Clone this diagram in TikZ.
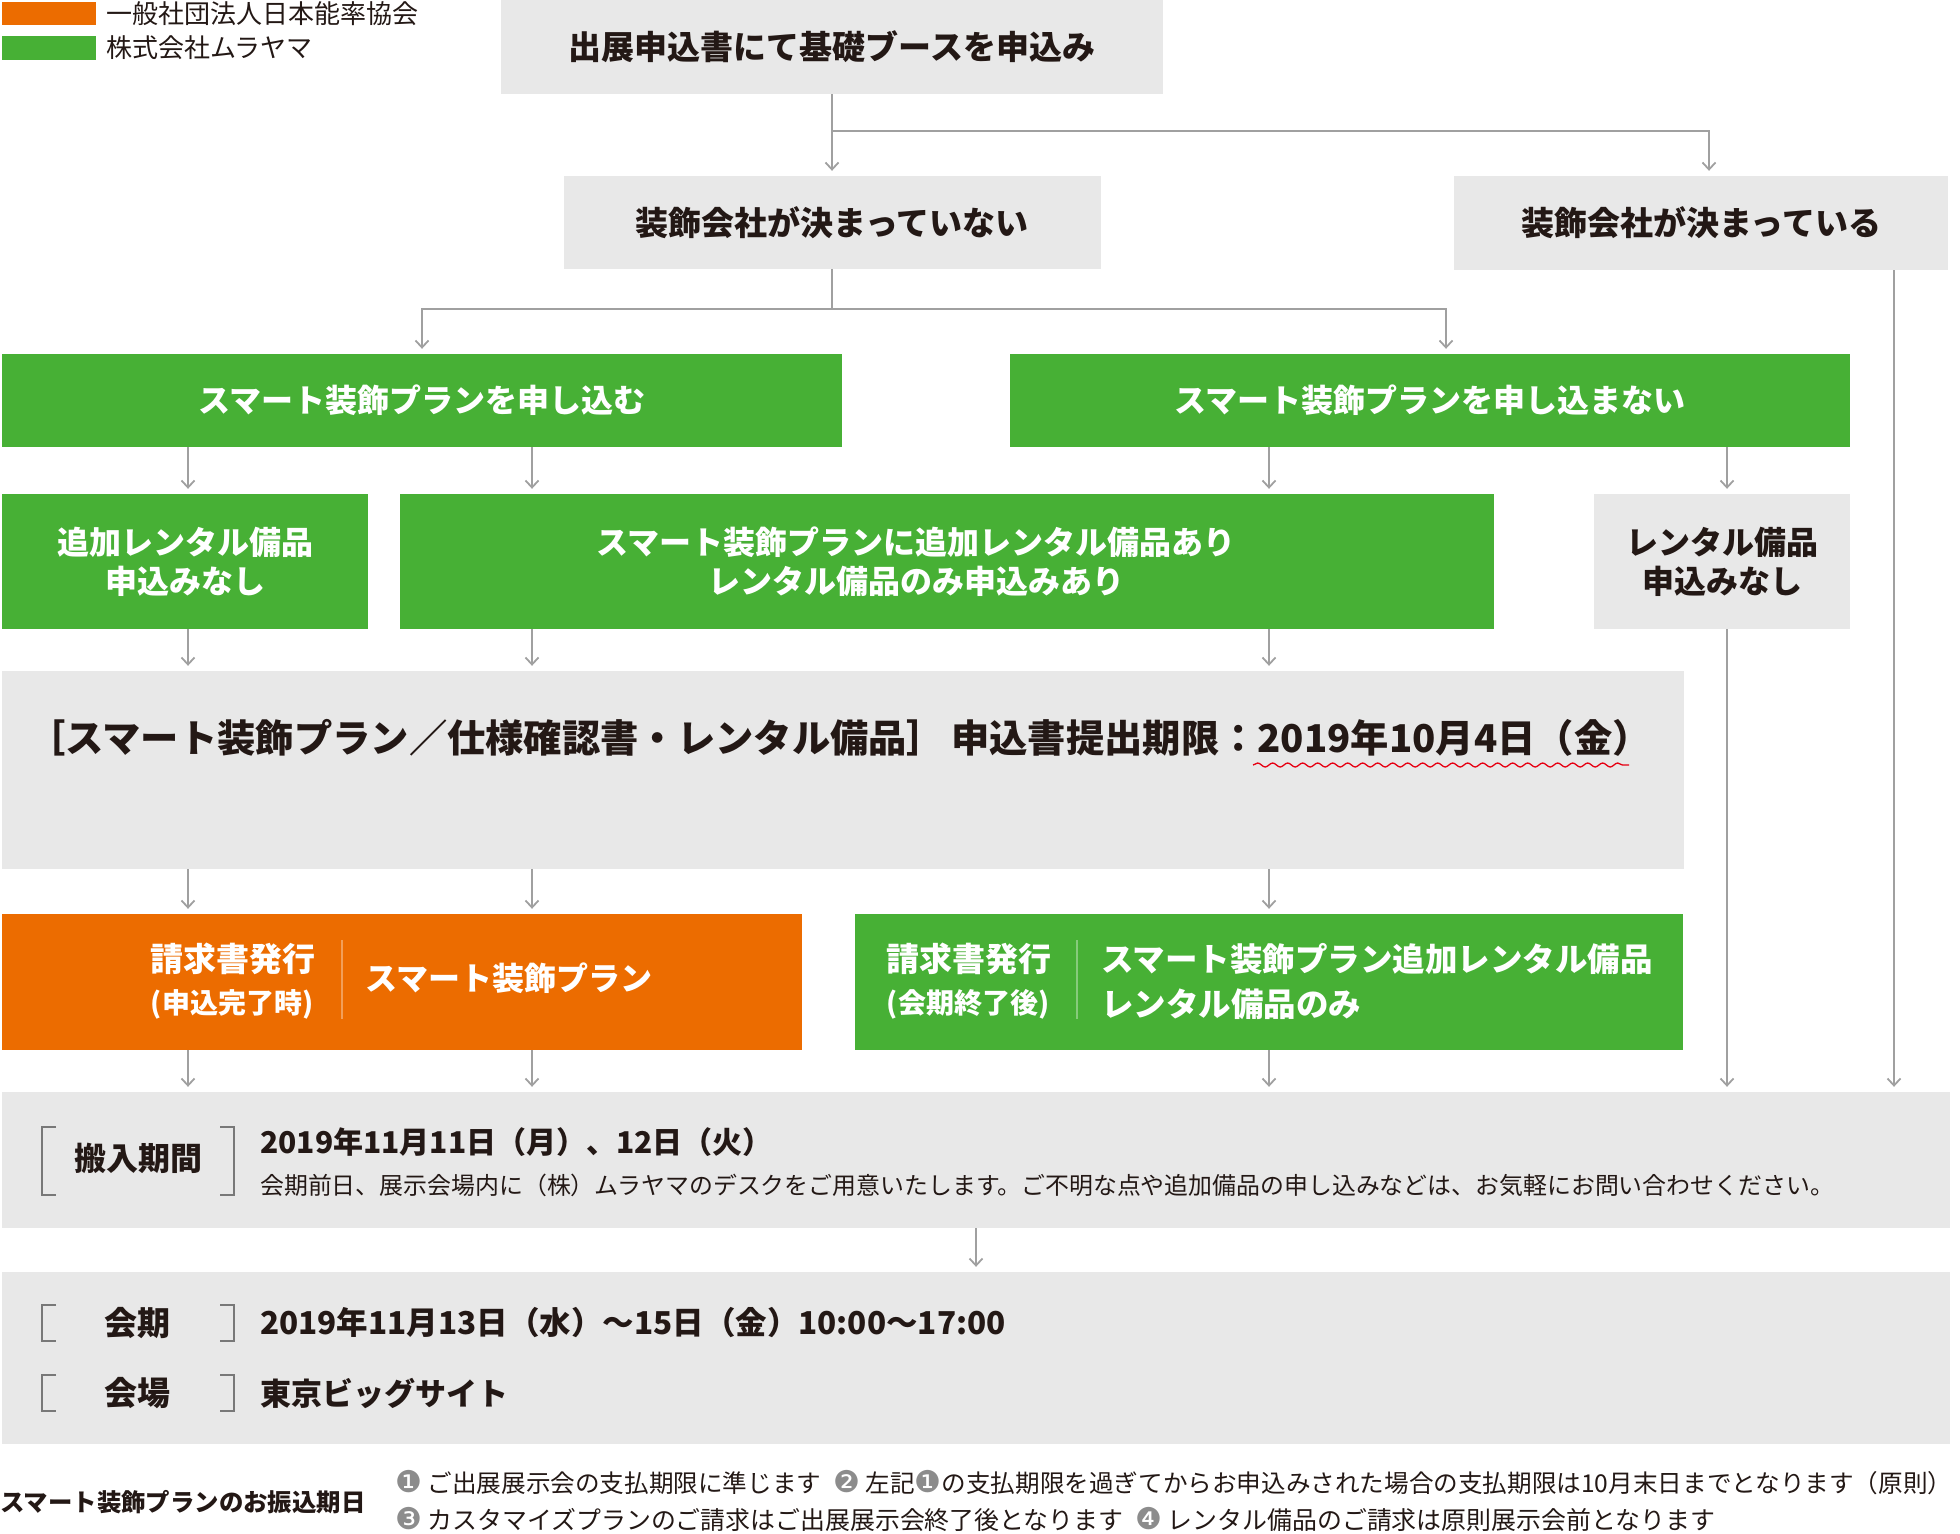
\documentclass[tikz,border=0pt]{standalone}
\usepackage{fontspec}
\setmainfont{Noto Sans CJK JP}
\newfontfamily\dejavu{DejaVu Sans}
\usetikzlibrary{arrows.meta,decorations.pathmorphing,calc}
\definecolor{jorange}{RGB}{236,108,0}
\definecolor{jgreen}{RGB}{71,176,53}
\definecolor{jgray}{RGB}{232,232,232}
\definecolor{jline}{RGB}{160,160,160}
\definecolor{jtext}{RGB}{35,24,21}
\definecolor{jbrk}{RGB}{120,120,120}
\definecolor{jred}{RGB}{230,0,18}
\definecolor{jcirc}{RGB}{140,140,140}
\newcommand\jfs[2]{\fontsize{#1}{#2}\selectfont}
\newcommand\cn[1]{{\dejavu\fontsize{30}{30}\selectfont\color{jcirc}#1}}
\begin{document}
\begin{tikzpicture}[x=1pt,y=-1pt,
  box/.style={rectangle,inner sep=0pt,anchor=center},
  gbox/.style={box,fill=jgray,text=jtext},
  grbox/.style={box,fill=jgreen,text=white},
  obox/.style={box,fill=jorange,text=white},
  txt/.style={inner sep=0pt},
  arr/.style={draw=jline,line width=1.8pt,-{Straight Barb[length=7pt,width=13pt]},shorten >=5pt},
  ln/.style={draw=jline,line width=1.8pt},
  brk/.style={draw=jbrk,line width=2pt},
  dv/.style={draw=white,draw opacity=0.35,line width=1.5pt},
  hA/.style={font=\jfs{33}{40}\bfseries},
  hB/.style={font=\jfs{32}{39}\bfseries,align=center},
]
\useasboundingbox (0,0) rectangle (1960,1534);

% legend
\fill[jorange] (2,2) rectangle (96,25);
\fill[jgreen] (2,36) rectangle (96,60);
\node[txt,anchor=west,text=jtext,font=\jfs{26}{30}] (lg1) at (106,14) {一般社団法人日本能率協会};
\node[txt,anchor=west,text=jtext,font=\jfs{26}{30}] (lg2) at (106,48) {株式会社ムラヤマ};

% boxes
\node[gbox,hA,minimum width=662pt,minimum height=94pt] (b1) at (832,47) {出展申込書にて基礎ブースを申込み};
\node[gbox,hA,minimum width=537pt,minimum height=93pt] (b2) at (832,222.5) {装飾会社が決まっていない};
\node[gbox,hA,minimum width=494pt,minimum height=94pt] (b3) at (1701,223) {装飾会社が決まっている};
\node[grbox,hB,minimum width=840pt,minimum height=93pt] (b4) at (422,400.5) {スマート装飾プランを申し込む};
\node[grbox,hB,minimum width=840pt,minimum height=93pt] (b5) at (1430,400.5) {スマート装飾プランを申し込まない};
\node[grbox,hB,minimum width=366pt,minimum height=135pt] (b6) at (185,561.5) {追加レンタル備品\\申込みなし};
\node[grbox,minimum width=1094pt,minimum height=135pt] (b7) at (947,561.5) {};
\node[txt,hB,text=white] (t7) at (916,561.5) {スマート装飾プランに追加レンタル備品あり\\レンタル備品のみ申込みあり};
\node[gbox,hB,minimum width=256pt,minimum height=135pt] (b8) at (1722,561.5) {レンタル備品\\申込みなし};
\node[gbox,minimum width=1682pt,minimum height=198pt] (b9) at (843,770) {};
\node[txt,anchor=west,text=jtext,font=\jfs{38.3}{44}\bfseries] (t9) at (27,738) {［スマート装飾プラン／仕様確認書・レンタル備品］\hspace{6pt}申込書提出期限：2019年10月4日（金）};
\draw[jred,line width=1.3pt,decorate,decoration={snake,amplitude=2pt,segment length=15pt}] (1253,765) -- (1629,765);

\node[obox,minimum width=800pt,minimum height=136pt] (b10) at (402,982) {};
\node[txt,text=white,font=\jfs{33}{40}\bfseries] (t10a) at (233,959) {請求書発行};
\node[txt,text=white,font=\jfs{28}{34}\bfseries] (t10b) at (232,1004) {(申込完了時)};
\node[txt,anchor=west,text=white,font=\jfs{32}{39}\bfseries] (t10c) at (365,978) {スマート装飾プラン};
\draw[dv] (342,940) -- (342,1019);

\node[grbox,minimum width=828pt,minimum height=136pt] (b11) at (1269,982) {};
\node[txt,text=white,font=\jfs{33}{40}\bfseries] (t11a) at (969,959) {請求書発行};
\node[txt,text=white,font=\jfs{28}{34}\bfseries] (t11b) at (968,1004) {(会期終了後)};
\node[txt,anchor=west,text=white,font=\jfs{32.5}{39}\bfseries] (t11c) at (1101,959) {スマート装飾プラン追加レンタル備品};
\node[txt,anchor=west,text=white,font=\jfs{32.5}{39}\bfseries] (t11d) at (1101,1004) {レンタル備品のみ};
\draw[dv] (1077,940) -- (1077,1019);

\node[gbox,minimum width=1948pt,minimum height=136pt] (b12) at (976,1160) {};
\draw[brk] (56,1127) -- (42,1127) -- (42,1195) -- (56,1195);
\draw[brk] (220,1127) -- (234,1127) -- (234,1195) -- (220,1195);
\node[txt,text=jtext,font=\jfs{32}{39}\bfseries] (t12a) at (138,1158) {搬入期間};
\node[txt,anchor=west,text=jtext,font=\jfs{30}{36}\bfseries] (t12b) at (260,1142) {2019年11月11日（月）、12日（火）};
\node[txt,anchor=west,text=jtext,font=\jfs{23.9}{28}] (t12c) at (260,1185) {会期前日、展示会場内に（株）ムラヤマのデスクをご用意いたします。ご不明な点や追加備品の申し込みなどは、お気軽にお問い合わせください。};

\node[gbox,minimum width=1948pt,minimum height=172pt] (b13) at (976,1358) {};
\draw[brk] (56,1305) -- (42,1305) -- (42,1341) -- (56,1341);
\draw[brk] (220,1305) -- (234,1305) -- (234,1341) -- (220,1341);
\draw[brk] (56,1375) -- (42,1375) -- (42,1411) -- (56,1411);
\draw[brk] (220,1375) -- (234,1375) -- (234,1411) -- (220,1411);
\node[txt,text=jtext,font=\jfs{33}{40}\bfseries] (t13a) at (137,1323) {会期};
\node[txt,anchor=west,text=jtext,font=\jfs{31.5}{39}\bfseries] (t13b) at (260,1323) {2019年11月13日（水）～15日（金）10:00～17:00};
\node[txt,text=jtext,font=\jfs{33}{40}\bfseries] (t13c) at (137,1393) {会場};
\node[txt,anchor=west,text=jtext,font=\jfs{31}{38}\bfseries] (t13d) at (260,1393) {東京ビッグサイト};

% footer
\node[txt,anchor=west,text=jtext,font=\jfs{24.4}{30}\bfseries] (f1) at (0,1502) {スマート装飾プランのお振込期日};
\node[txt,anchor=west,text=jtext,font=\jfs{24.6}{30}] (f2) at (395,1483) {\cn{❶} ご出展展示会の支払期限に準じます\hspace{12pt}\cn{❷} 左記\cn{❶}の支払期限を過ぎてからお申込みされた場合の支払期限は10月末日までとなります（原則）};
\node[txt,anchor=west,text=jtext,font=\jfs{24.9}{30}] (f3) at (395,1519) {\cn{❸} カスタマイズプランのご請求はご出展展示会終了後となります\hspace{12pt}\cn{❹} レンタル備品のご請求は原則展示会前となります};

% connectors
\coordinate (c1) at (188,0);
\coordinate (c2) at (532,0);
\coordinate (c3) at (1269,0);
\coordinate (c4) at (1727,0);
\coordinate (c5) at (1894,0);
\coordinate (c6) at (1709,0);
\coordinate (c7) at (1446,0);
\coordinate (j1) at (832,131);
\coordinate (j2) at (832,309);
\draw[ln] (b1.south) -- (j1);
\draw[arr] (j1) -- (b2.north);
\draw[arr] (j1) -| (b3.north -| c6);
\draw[ln] (b2.south) -- (j2);
\draw[arr] (j2) -| (b4.north);
\draw[arr] (j2) -| (b5.north -| c7);
\draw[arr] (b4.south -| c1) -- (b6.north -| c1);
\draw[arr] (b4.south -| c2) -- (b7.north -| c2);
\draw[arr] (b5.south -| c3) -- (b7.north -| c3);
\draw[arr] (b5.south -| c4) -- (b8.north -| c4);
\draw[arr] (b6.south -| c1) -- (b9.north -| c1);
\draw[arr] (b7.south -| c2) -- (b9.north -| c2);
\draw[arr] (b7.south -| c3) -- (b9.north -| c3);
\draw[arr] (b9.south -| c1) -- (b10.north -| c1);
\draw[arr] (b9.south -| c2) -- (b10.north -| c2);
\draw[arr] (b9.south -| c3) -- (b11.north -| c3);
\draw[arr] (b10.south -| c1) -- (b12.north -| c1);
\draw[arr] (b10.south -| c2) -- (b12.north -| c2);
\draw[arr] (b11.south -| c3) -- (b12.north -| c3);
\draw[arr] (b8.south -| c4) -- (b12.north -| c4);
\draw[arr] (b3.south -| c5) -- (b12.north -| c5);
\draw[arr] (b12.south) -- (b13.north);
\end{tikzpicture}
\end{document}
